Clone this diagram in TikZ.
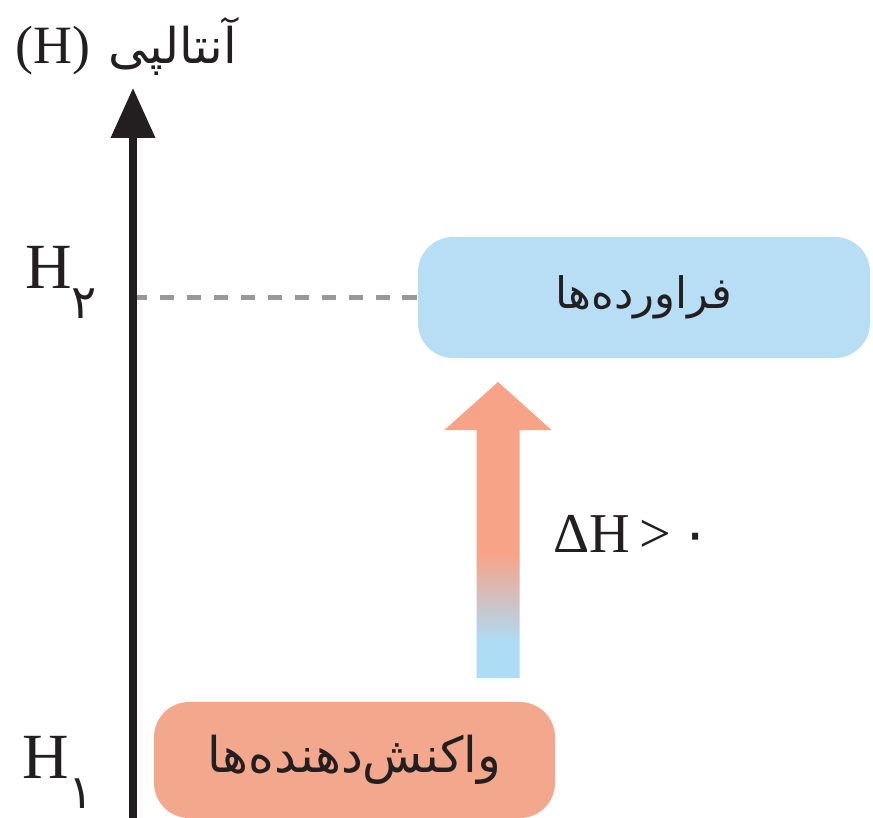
\documentclass[tikz,border=0pt]{standalone}
\usepackage{fontspec}
\setmainfont{Liberation Serif}
\newfontfamily\arabicfont[Script=Arabic]{DejaVu Sans}
\TeXXeTstate=1
\usetikzlibrary{arrows.meta,positioning}
\definecolor{prodblue}{HTML}{B8DEF6}
\definecolor{reacorange}{HTML}{F3A78D}
\definecolor{arrblue}{HTML}{ADDCF7}
\definecolor{arrorange}{HTML}{F7A388}
\definecolor{inkblack}{HTML}{231F20}
\pgfdeclareverticalshading{dhshade}{100bp}{color(0bp)=(arrblue); color(31bp)=(arrblue); color(46bp)=(arrorange); color(100bp)=(arrorange)}
\begin{document}
\begin{tikzpicture}[x=0.03cm,y=-0.03cm,
	levelbox/.style={rounded corners=30pt,inner sep=0,text=inkblack},
	axisline/.style={line width=6pt,draw=inkblack,-{Triangle[length=50*0.03cm,width=43*0.03cm]}},
	levelline/.style={line width=3.5pt,draw=black!40,dash pattern=on 12pt off 11pt},
	hlabel/.style={anchor=base west,inner sep=0,text=inkblack}]
	\useasboundingbox (0,0) rectangle (873,818);
	\fill[white] (0,0) rectangle (873,818);
	% levels
	\node[levelbox,fill=prodblue,minimum width=452*0.03cm,minimum height=121*0.03cm] (prod) at (644,297.5) {\arabicfont\fontsize{37}{40}\selectfont\beginR فراورده‌ها\endR};
	\node[levelbox,fill=reacorange,minimum width=401*0.03cm,minimum height=116*0.03cm] (reac) at (354.5,760) {\arabicfont\fontsize{42}{44}\selectfont\beginR واکنش‌دهنده‌ها\endR};
	% axis
	\coordinate (axbot) at (133,818);
	\coordinate (axtop) at (133,88);
	\coordinate (axprod) at (axbot |- prod.west);
	\draw[levelline] (axprod) -- (prod.west);
	\draw[axisline] (axbot) -- (axtop);
	\node[hlabel,font=\fontsize{46}{48}\selectfont] (enth) at (15,64) {(H)\hspace{0.35em}{\arabicfont\fontsize{42}{44}\selectfont\beginR آنتالپی\endR}};
	\node[hlabel,font=\fontsize{55}{56}\selectfont] (htwo) at (25,288) {H\raisebox{-0.9cm}{\arabicfont\fontsize{40}{40}\selectfont ۲}};
	\node[hlabel,font=\fontsize{55}{56}\selectfont] (hone) at (22,778) {H\raisebox{-0.9cm}{\arabicfont\fontsize{40}{40}\selectfont ۱}};
	% delta H arrow
	\coordinate (dhbot) at (498,678);
	\coordinate (dhtop) at (498,382);
	\shade[shading=dhshade] (dhbot) ++(-21.5,0) -- ++(0,-248) -- ++(-32,0) -- (dhtop) -- ++(53.5,48) -- ++(-32,0) -- ++(0,248) -- cycle;
	\node[hlabel,font=\fontsize{48}{48}\selectfont] (dh) at (553,552) {ΔH\,>\,{\arabicfont ۰}};
\end{tikzpicture}
\end{document}
